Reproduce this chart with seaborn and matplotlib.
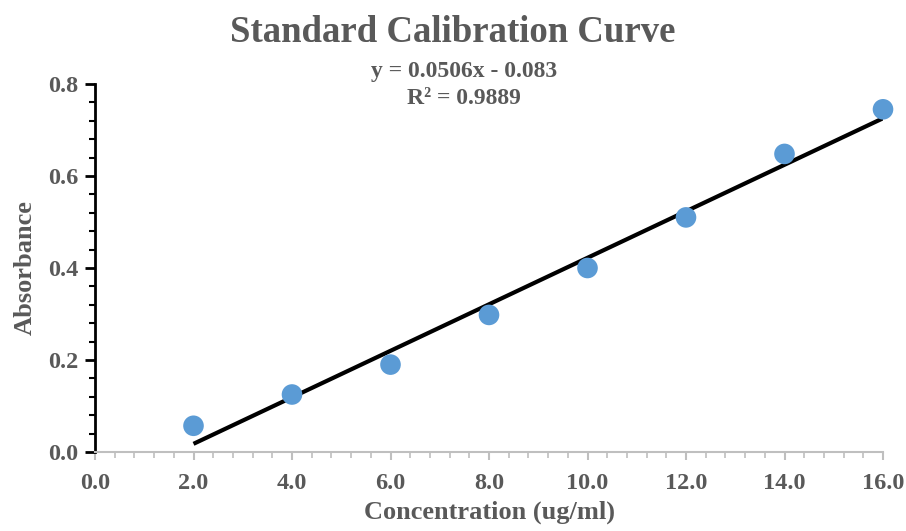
import matplotlib
matplotlib.use('Agg')
import matplotlib.pyplot as plt
from matplotlib.ticker import MultipleLocator, FormatStrFormatter
import seaborn as sns
import numpy as np

# Data
concentration = [2, 4, 6, 8, 10, 12, 14, 16]
absorbance = [0.057, 0.125, 0.190, 0.298, 0.400, 0.510, 0.648, 0.745]
equation_text = "y = 0.0506x - 0.083"
r2_text = "R² = 0.9889"

sns.set_style("white")
plt.rcParams['font.family'] = ['Liberation Serif', 'DejaVu Serif']
plt.rcParams['font.weight'] = 'bold'
gray = '#595959'

fig = plt.figure(figsize=(9.06, 5.31), dpi=100)
ax = fig.add_axes([95 / 906, 79 / 531, 788 / 906, 368 / 531])

# Trendline first, points on top
sns.regplot(x=concentration, y=absorbance, ci=None, scatter=False, ax=ax,
            line_kws={'color': 'black', 'linewidth': 3, 'solid_capstyle': 'butt'})
sns.scatterplot(x=concentration, y=absorbance, ax=ax, s=220, color='#5B9BD5',
                edgecolor='none', zorder=3, clip_on=False)

ax.set_xlim(0, 16)
ax.set_ylim(0, 0.8)
ax.xaxis.set_major_locator(MultipleLocator(2))
ax.xaxis.set_minor_locator(MultipleLocator(0.4))
ax.yaxis.set_major_locator(MultipleLocator(0.2))
ax.yaxis.set_minor_locator(MultipleLocator(0.04))
ax.xaxis.set_major_formatter(FormatStrFormatter('%.1f'))
ax.yaxis.set_major_formatter(FormatStrFormatter('%.1f'))

for side in ['top', 'right']:
    ax.spines[side].set_visible(False)
ax.spines['left'].set_color('black')
ax.spines['left'].set_linewidth(2)
ax.spines['bottom'].set_color('#BFBFBF')
ax.spines['bottom'].set_linewidth(1.5)

ax.tick_params(axis='y', which='major', direction='out', length=7, width=2,
               color='black', left=True, labelsize=17.5, labelcolor=gray, pad=5)
ax.tick_params(axis='y', which='minor', direction='out', length=4, width=1.5,
               color='black', left=True)
ax.tick_params(axis='x', which='major', direction='out', length=6, width=1.5,
               color='#BFBFBF', bottom=True, labelsize=17.5, labelcolor=gray, pad=9)
ax.tick_params(axis='x', which='minor', direction='out', length=4, width=1.2,
               color='#BFBFBF', bottom=True)

ax.set_xlabel("Concentration (ug/ml)", fontsize=19, color=gray, weight='bold', labelpad=5)
ax.set_ylabel("Absorbance", fontsize=19, color=gray, weight='bold', labelpad=8)

fig.text(453 / 906, 1 - 33 / 531, "Standard Calibration Curve", ha='center', va='center',
         fontsize=26.5, color=gray, weight='bold')
fig.text(464 / 906, 1 - 72 / 531, equation_text, ha='center', va='center',
         fontsize=17, color=gray, weight='bold')
fig.text(464 / 906, 1 - 98 / 531, r2_text, ha='center', va='center',
         fontsize=17, color=gray, weight='bold')

plt.savefig('out.png', dpi=100)
